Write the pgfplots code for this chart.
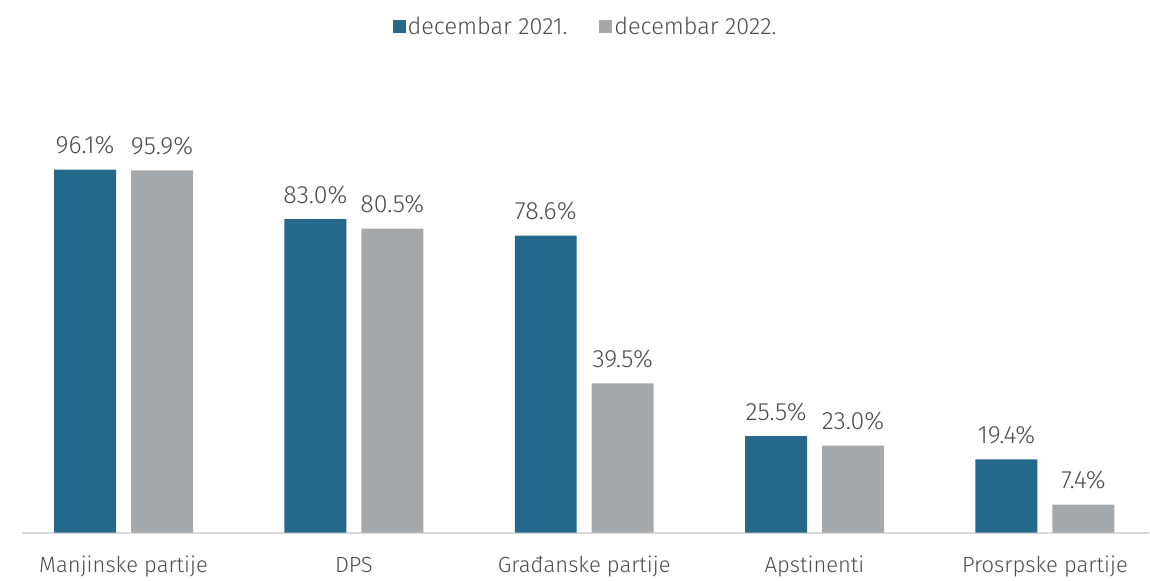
\documentclass[border=0pt]{standalone}
\usepackage{pgfplots}
\pgfplotsset{compat=1.18}
\usepackage{fontspec}
\setmainfont{Fira Sans}[UprightFont=* Light]
\definecolor{cblue}{HTML}{24688C}
\definecolor{cgray}{HTML}{A5A8AB}
\definecolor{ctext}{HTML}{4D4D4D}
\definecolor{caxis}{HTML}{D9D9D9}
\begin{document}
\begin{tikzpicture}
\begin{axis}[
    name=ax,
    scale only axis,
    width=1128pt, height=378pt,
    ybar=15pt,
    bar width=62pt,
    xmin=-0.441, xmax=4.452,
    ymin=0, ymax=100,
    enlargelimits=false,
    clip=false,
    axis y line=none,
    axis x line*=bottom,
    x axis line style={-, draw=caxis, line width=2pt},
    xtick={0,1,2,3,4},
    xticklabels={Manjinske partije, DPS, Građanske partije, Apstinenti, Prosrpske partije},
    major tick length=0pt,
    xticklabel style={font=\fontsize{22}{26}\selectfont, text=ctext, anchor=base, yshift=-40pt},
    /pgf/number format/assume math mode=true,
    nodes near coords={\pgfmathprintnumber[fixed,fixed zerofill,precision=1]{\pgfplotspointmeta}\%},
    every node near coord/.append style={font=\fontsize{25}{30}\selectfont, text=ctext, anchor=base, inner sep=0pt, yshift=16pt},
    legend columns=-1,
    legend style={draw=none, at={(axis description cs:0.5,1)}, anchor=center, yshift=128pt,
        font=\fontsize{23.5}{28}\selectfont, text=ctext,
        /tikz/every even column/.append style={column sep=30pt}},
    legend image code/.code={\fill[#1] (0pt,-6.5pt) rectangle (13pt,6.5pt);},
]
\addplot[fill=cblue, draw=none] coordinates {(0,96.1) (1,83.0) (2,78.6) (3,25.5) (4,19.4)};
\addplot[fill=cgray, draw=none] coordinates {(0,95.9) (1,80.5) (2,39.5) (3,23.0) (4,7.4)};
\legend{decembar 2021., decembar 2022.}
\end{axis}
\path ([xshift=-22pt, yshift=-46pt]ax.south west) rectangle ([yshift=155pt]ax.north east);
\end{tikzpicture}
\end{document}
